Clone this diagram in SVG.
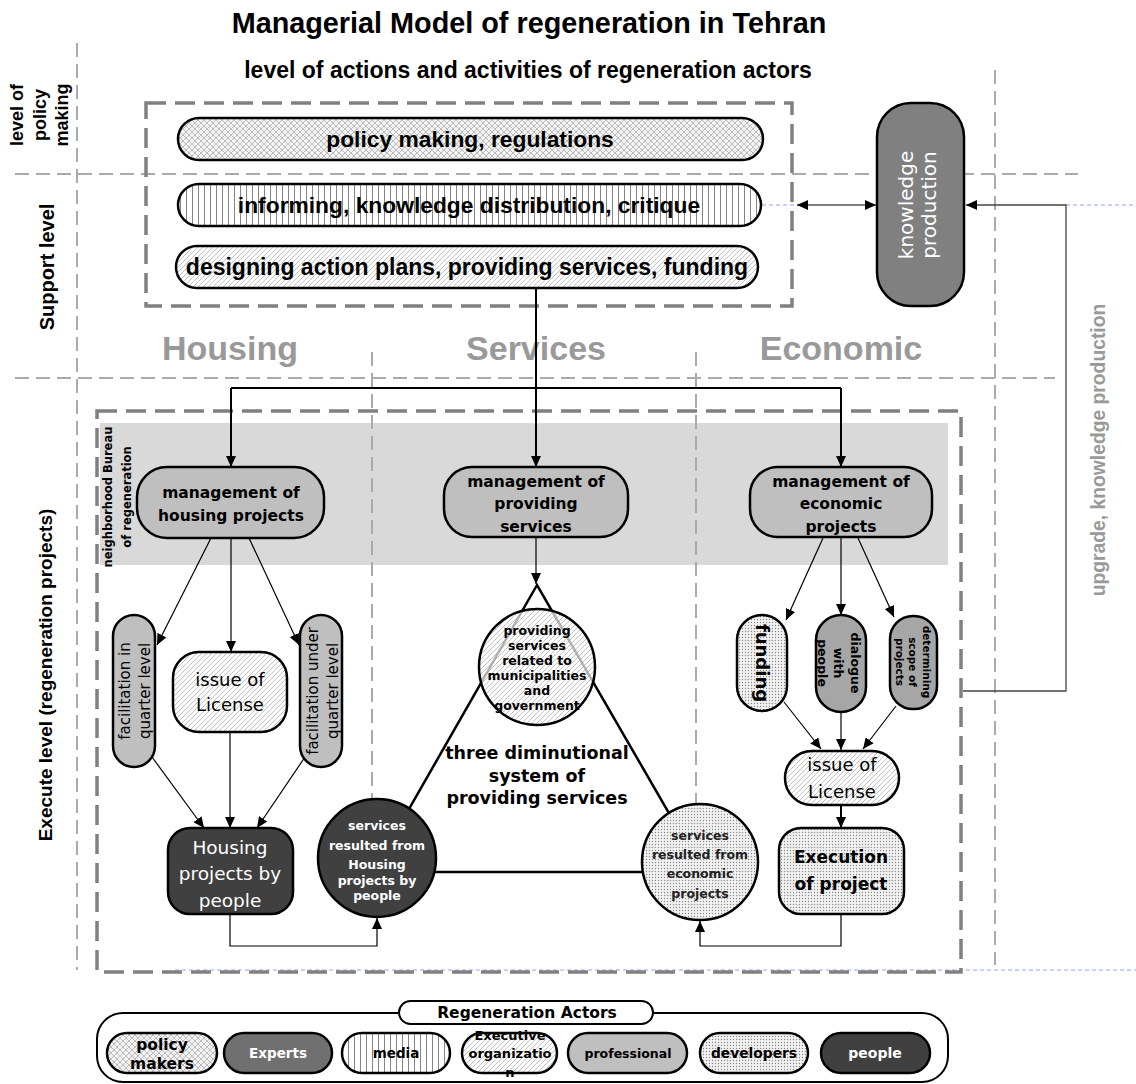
<svg xmlns="http://www.w3.org/2000/svg" width="1136" height="1084" viewBox="0 0 1136 1084">
<style>
.ar{font-family:"Liberation Sans",Arial,sans-serif;font-weight:bold}
.dj{font-family:"DejaVu Sans",sans-serif}
.b{font-weight:bold}
.c{text-anchor:middle}
.lg{fill:none;stroke:#aaa;stroke-width:2;stroke-dasharray:14 7}
.dg{fill:none;stroke:#808080;stroke-width:3.5;stroke-dasharray:20 9}
.bl{fill:none;stroke:#8da0ff;stroke-width:1;stroke-dasharray:4 3}
.nd{stroke:#000;stroke-width:2.5}
.cn{fill:none;stroke:#000;stroke-width:2}
.cs{fill:none;stroke:#000;stroke-width:1.2}
.hd{fill:#999}
</style>
<defs>
<marker id="ah" markerUnits="userSpaceOnUse" markerWidth="11" markerHeight="10" refX="11" refY="5" orient="auto-start-reverse"><path d="M0,0 L11,5 L0,10 z" fill="#000"/></marker>
<pattern id="xh" width="6" height="6" patternUnits="userSpaceOnUse"><rect width="6" height="6" fill="#f2f2f2"/><path d="M0,0 L6,6 M6,0 L0,6" stroke="#999" stroke-width="0.6"/></pattern>
<pattern id="vl" width="6" height="6" patternUnits="userSpaceOnUse"><rect width="6" height="6" fill="#fff"/><path d="M0.5,0 V6" stroke="#777" stroke-width="0.9"/></pattern>
<pattern id="hh" width="5" height="5" patternUnits="userSpaceOnUse"><rect width="5" height="5" fill="#fff"/><path d="M0,5 L5,0 M-1,1 L1,-1 M4,6 L6,4" stroke="#999" stroke-width="0.6"/></pattern>
<pattern id="hht" width="5" height="5" patternUnits="userSpaceOnUse"><rect width="5" height="5" fill="#fff" fill-opacity="0.7"/><path d="M0,5 L5,0 M-1,1 L1,-1 M4,6 L6,4" stroke="#999" stroke-width="0.6"/></pattern>
<pattern id="dt" width="3" height="3" patternUnits="userSpaceOnUse"><rect width="3" height="3" fill="#f2f2f2"/><circle cx="1.5" cy="1.5" r="0.7" fill="#888"/></pattern>
</defs>
<rect width="1136" height="1084" fill="#fff"/>

<!-- background band and guide lines -->
<rect x="100" y="423" width="848" height="142" fill="#d9d9d9"/>
<g id="guides">
<path class="lg" d="M77,43 V970"/>
<path class="lg" d="M995,70 V965"/>
<path class="lg" d="M15,174 H1078"/>
<path class="lg" d="M15,378 H1055"/>
<path class="lg" d="M372,352 V805"/>
<path class="lg" d="M696,352 V805"/>
<path class="bl" d="M175,970 H1136"/>
<path class="dg" d="M146,103 H792 V306 H146 Z"/>
<path class="dg" d="M97,411 H961 V972 H97 Z"/>
</g>

<!-- titles and labels -->
<text class="ar c" x="529" y="33" font-size="28.8">Managerial Model of regeneration in Tehran</text>
<text class="ar c" x="528" y="78" font-size="23">level of actions and activities of regeneration actors</text>
<g class="ar c" font-size="18" transform="translate(40,115) rotate(-90)">
<text x="0" y="-17">level of</text><text x="0" y="5.5">policy</text><text x="0" y="28">making</text>
</g>
<text class="ar c" font-size="20" transform="translate(47,267) rotate(-90)" y="7">Support level</text>
<text class="ar c" font-size="19" transform="translate(45,675) rotate(-90)" y="6.7">Execute level (regeneration projects)</text>
<text class="ar c hd" font-size="19.3" transform="translate(1098,450) rotate(-90)" y="6.8">upgrade, knowledge production</text>
<text class="ar c hd" x="230" y="360" font-size="34">Housing</text>
<text class="ar c hd" x="536" y="360" font-size="34">Services</text>
<text class="ar c hd" x="841" y="360" font-size="34">Economic</text>
<g class="dj b c" font-size="11.5" transform="translate(117,497) rotate(-90)">
<text x="0" y="-5">neighborhood Bureau</text><text x="0" y="14">of regeneration</text>
</g>

<!-- connectors -->
<g id="connectors">
<path class="cn" d="M536,289 V388 M231,388 H841"/>
<path class="cn" d="M231,388 V467" marker-end="url(#ah)"/>
<path class="cn" d="M536,388 V467" marker-end="url(#ah)"/>
<path class="cn" d="M841,388 V467" marker-end="url(#ah)"/>
<path class="cs" d="M797,205 H876" marker-start="url(#ah)" marker-end="url(#ah)"/>
<path class="bl" d="M762,205 H797 M1066,205 H1136"/>
<path d="M963,691 H1066 V205 H966" fill="none" stroke="#444" stroke-width="1.3" marker-end="url(#ah)"/>
<path class="cs" d="M211,538 L157,645" marker-end="url(#ah)"/>
<path class="cs" d="M231,538 V652" marker-end="url(#ah)"/>
<path class="cs" d="M249,538 L299,645" marker-end="url(#ah)"/>
<path class="cs" d="M152,757 L204,828" marker-end="url(#ah)"/>
<path class="cs" d="M230,732 V828" marker-end="url(#ah)"/>
<path class="cs" d="M305,757 L257,828" marker-end="url(#ah)"/>
<path class="cs" d="M230,914 V946 H377 V918" marker-end="url(#ah)"/>
<path class="cs" d="M536,537 V584" marker-end="url(#ah)"/>
<path class="cs" d="M823,538 L786,620" marker-end="url(#ah)"/>
<path class="cs" d="M841,538 V615" marker-end="url(#ah)"/>
<path class="cs" d="M858,538 L894,617" marker-end="url(#ah)"/>
<path class="cs" d="M784,702 L821,749" marker-end="url(#ah)"/>
<path class="cs" d="M841,712 V750" marker-end="url(#ah)"/>
<path class="cs" d="M896,706 L863,749" marker-end="url(#ah)"/>
<path class="cn" d="M841,805 V828" marker-end="url(#ah)"/>
<path class="cs" d="M841,914 V946 H700 V921" marker-end="url(#ah)"/>
<polygon points="537,585 373,872 703,872" fill="none" stroke="#000" stroke-width="2.5"/>
</g>

<!-- top level pills -->
<g id="n-policy">
<rect class="nd" x="178" y="118" width="585" height="42" rx="21" fill="url(#xh)"/>
<text class="ar c" x="470" y="147" font-size="22.8">policy making, regulations</text>
</g>
<g id="n-informing">
<rect class="nd" x="178" y="184" width="583" height="42" rx="21" fill="url(#vl)"/>
<text class="ar c" x="469" y="213" font-size="22.8">informing, knowledge distribution, critique</text>
</g>
<g id="n-designing">
<rect class="nd" x="176" y="246" width="582" height="42" rx="21" fill="url(#hh)"/>
<text class="ar c" x="467" y="275" font-size="23">designing action plans, providing services, funding</text>
</g>
<g id="n-knowledge">
<rect class="nd" x="877" y="103" width="87" height="203" rx="34" fill="#808080"/>
<g class="dj c" font-size="20" fill="#fff" transform="translate(920,205) rotate(-90)">
<text x="0" y="-7">knowledge</text><text x="0" y="16">production</text>
</g>
</g>

<!-- management nodes -->
<g id="n-mgmt-housing">
<rect class="nd" x="137" y="467" width="187" height="71" rx="30" fill="#bfbfbf"/>
<text class="dj b c" font-size="15.5" x="231" y="498">management of</text>
<text class="dj b c" font-size="15.5" x="231" y="521">housing projects</text>
</g>
<g id="n-mgmt-services">
<rect class="nd" x="444" y="467" width="184" height="70" rx="28" fill="#bfbfbf"/>
<text class="dj b c" font-size="15.5" x="536" y="487">management of</text>
<text class="dj b c" font-size="15.5" x="536" y="509">providing</text>
<text class="dj b c" font-size="15.5" x="536" y="532">services</text>
</g>
<g id="n-mgmt-economic">
<rect class="nd" x="750" y="467" width="182" height="70" rx="28" fill="#bfbfbf"/>
<text class="dj b c" font-size="15.5" x="841" y="487">management of</text>
<text class="dj b c" font-size="15.5" x="841" y="509">economic</text>
<text class="dj b c" font-size="15.5" x="841" y="532">projects</text>
</g>

<!-- housing column -->
<g id="n-facil-in">
<rect class="nd" x="113" y="615" width="42" height="152" rx="21" fill="#bfbfbf"/>
<g class="dj c" font-size="15" transform="translate(134,691) rotate(-90)">
<text x="0" y="-3.7">facilitation in</text><text x="0" y="16.3">quarter level</text>
</g>
</g>
<g id="n-issue-h">
<rect class="nd" x="173" y="652" width="114" height="80" rx="26" fill="url(#hh)"/>
<text class="dj c" font-size="18" x="230" y="686">issue of</text>
<text class="dj c" font-size="18" x="230" y="711">License</text>
</g>
<g id="n-facil-under">
<rect class="nd" x="300" y="615" width="42" height="152" rx="21" fill="#bfbfbf"/>
<g class="dj c" font-size="15" transform="translate(321,691) rotate(-90)">
<text x="0" y="-2.7">facilitation under</text><text x="0" y="17.3">quarter level</text>
</g>
</g>
<g id="n-housing-people">
<rect class="nd" x="168" y="828" width="125" height="86" rx="22" fill="#404040"/>
<g class="dj c" font-size="18.5" fill="#fff">
<text x="230" y="853.5">Housing</text><text x="230" y="879.5">projects by</text><text x="230" y="906.5">people</text>
</g>
</g>

<!-- services column -->
<g id="n-svc-gov">
<circle class="nd" cx="537" cy="667" r="58" fill="url(#hht)"/>
<g class="dj b c" font-size="12.5">
<text x="537" y="634.5">providing</text><text x="537" y="649.5">services</text><text x="537" y="664.5">related to</text><text x="537" y="679.5">municipalities</text><text x="537" y="694.5">and</text><text x="537" y="710">government</text>
</g>
</g>
<g id="n-three">
<g class="dj b c" font-size="17.5">
<text x="537" y="759">three diminutional</text><text x="537" y="782">system of</text><text x="537" y="804">providing services</text>
</g>
</g>
<g id="n-svc-housing">
<circle class="nd" cx="377" cy="858" r="59" fill="#404040"/>
<g class="dj b c" font-size="12.5" fill="#fff">
<text x="377" y="829.5">services</text><text x="377" y="849.5">resulted from</text><text x="377" y="868.5">Housing</text><text x="377" y="884.5">projects by</text><text x="377" y="899.5">people</text>
</g>
</g>
<g id="n-svc-economic">
<circle class="nd" cx="700" cy="862" r="58" fill="url(#dt)"/>
<g class="dj b c" font-size="12.5" fill="#222">
<text x="700" y="839.5">services</text><text x="700" y="858.5">resulted from</text><text x="700" y="877.5">economic</text><text x="700" y="897.5">projects</text>
</g>
</g>

<!-- economic column -->
<g id="n-funding">
<rect class="nd" x="737" y="615" width="50" height="96" rx="25" fill="url(#dt)"/>
<text class="dj b c" font-size="18" transform="translate(762,663) rotate(90)" y="6.3">funding</text>
</g>
<g id="n-dialogue">
<rect class="nd" x="816" y="615" width="50" height="97" rx="25" fill="#a6a6a6"/>
<g class="dj b c" font-size="12.5" transform="translate(841,663) rotate(90)">
<text x="0" y="-9.5">dialogue</text><text x="0" y="7.5">with</text><text x="0" y="23.5">people</text>
</g>
</g>
<g id="n-determining">
<rect class="nd" x="890" y="616" width="47" height="93" rx="23" fill="#a6a6a6"/>
<g class="dj b c" font-size="10.5" transform="translate(913,662) rotate(90)">
<text x="0" y="-10.3">determining</text><text x="0" y="3.7">scope of</text><text x="0" y="16.7">projects</text>
</g>
</g>
<g id="n-issue-e">
<rect class="nd" x="785" y="751" width="114" height="54" rx="27" fill="url(#hh)"/>
<text class="dj c" font-size="18" x="842" y="771">issue of</text>
<text class="dj c" font-size="18" x="842" y="798">License</text>
</g>
<g id="n-execution">
<rect class="nd" x="779" y="828" width="125" height="86" rx="22" fill="url(#dt)"/>
<text class="dj b c" font-size="17" x="841" y="863">Execution</text>
<text class="dj b c" font-size="17" x="841" y="890">of project</text>
</g>

<!-- legend -->
<g id="legend">
<rect x="97" y="1013" width="851" height="69" rx="26" fill="none" stroke="#000" stroke-width="2"/>
<rect x="399" y="1001" width="254" height="23" rx="11.5" fill="#fff" stroke="#000" stroke-width="2"/>
<text class="dj b c" font-size="15.5" x="527" y="1018">Regeneration Actors</text>
<rect class="nd" x="107" y="1033" width="110" height="40" rx="20" fill="url(#xh)" stroke-width="2"/>
<text class="dj b c" font-size="15.5" x="162" y="1050">policy</text>
<text class="dj b c" font-size="15.5" x="162" y="1069">makers</text>
<rect class="nd" x="224" y="1033" width="108" height="40" rx="20" fill="#707070" stroke-width="2"/>
<text class="dj b c" font-size="13.5" x="278" y="1058" fill="#fff">Experts</text>
<rect class="nd" x="342" y="1033" width="108" height="40" rx="20" fill="url(#vl)" stroke-width="2"/>
<text class="dj b c" font-size="13.5" x="396" y="1058">media</text>
<rect class="nd" x="462" y="1033" width="95" height="40" rx="20" fill="url(#hh)" stroke-width="2"/>
<text class="dj b c" font-size="13" x="510" y="1040">Executive</text>
<text class="dj b c" font-size="13" x="510" y="1058">organizatio</text>
<text class="dj b c" font-size="13" x="510" y="1077">n</text>
<rect class="nd" x="568" y="1033" width="119" height="40" rx="20" fill="#bfbfbf" stroke-width="2"/>
<text class="dj b c" font-size="12.5" x="628" y="1058">professional</text>
<rect class="nd" x="700" y="1033" width="108" height="40" rx="20" fill="url(#dt)" stroke-width="2"/>
<text class="dj b c" font-size="13.8" x="754" y="1058">developers</text>
<rect class="nd" x="821" y="1033" width="109" height="40" rx="20" fill="#404040" stroke-width="2"/>
<text class="dj b c" font-size="14" x="875" y="1058" fill="#fff">people</text>
</g>
</svg>
